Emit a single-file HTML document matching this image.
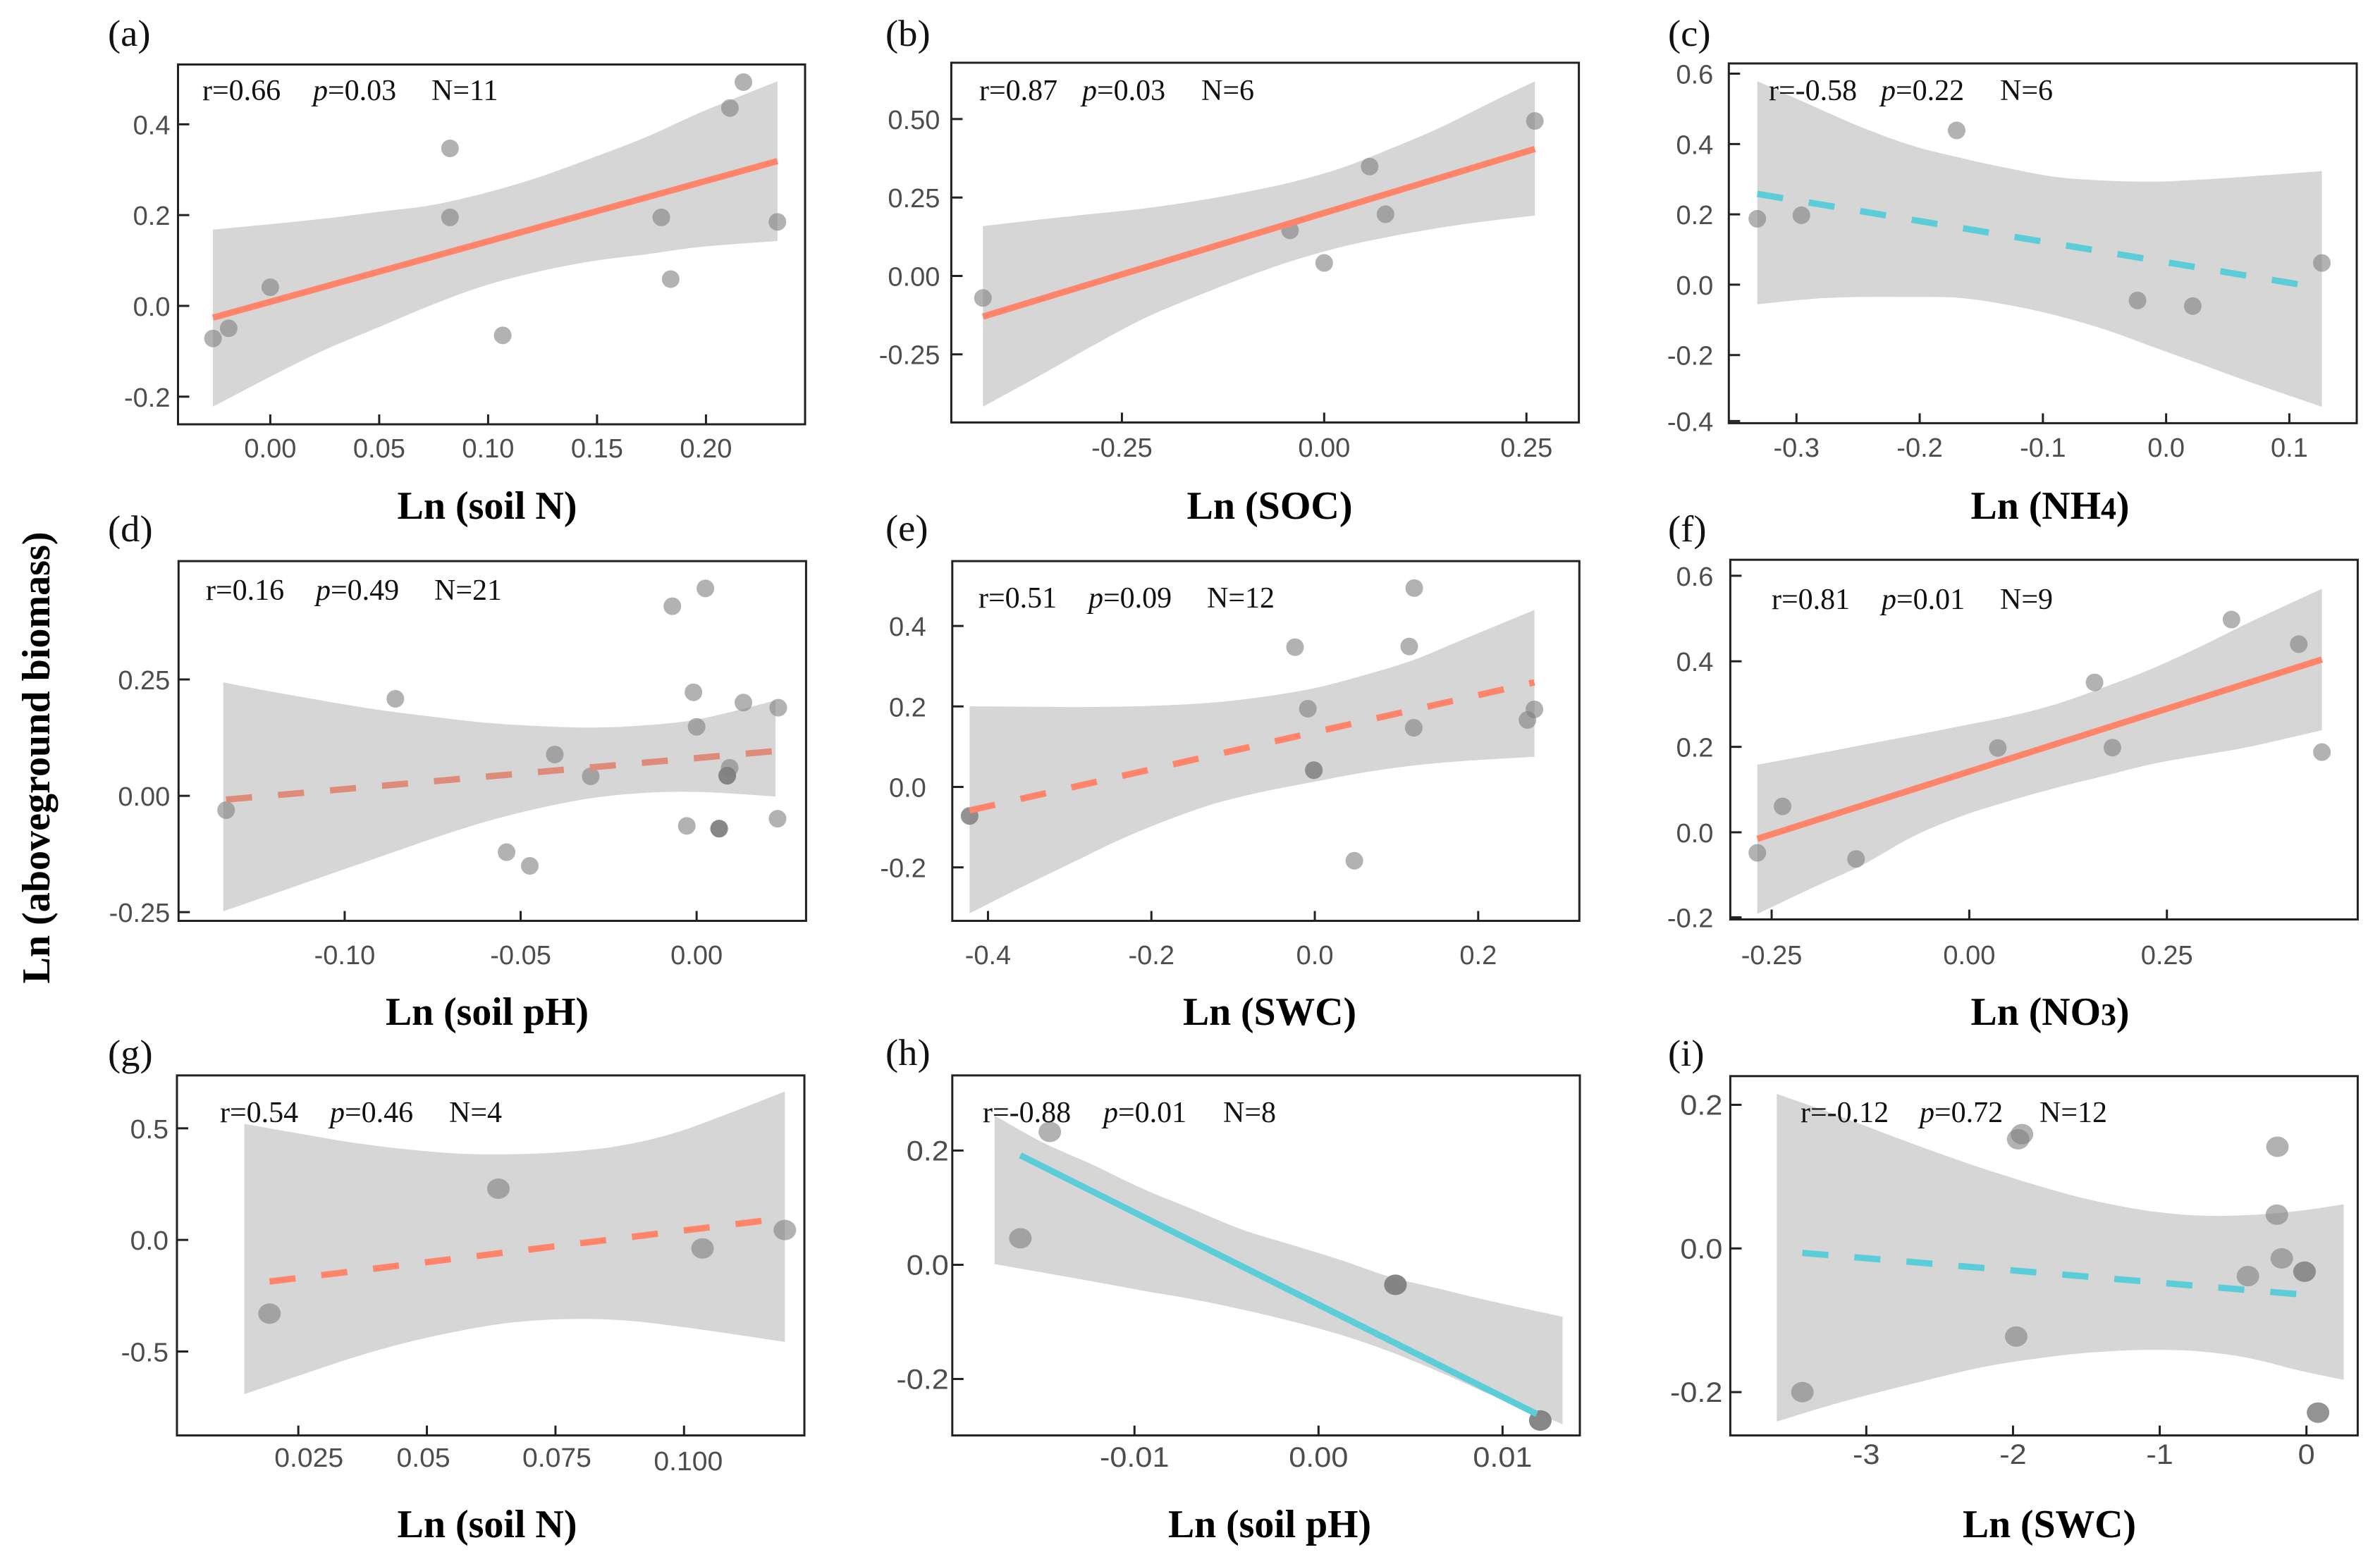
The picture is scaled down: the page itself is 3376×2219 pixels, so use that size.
<!DOCTYPE html>
<html lang="en">
<head>
<meta charset="utf-8">
<title>Aboveground biomass response regressions</title>
<style>
html,body{margin:0;padding:0;background:#fff;}
svg{display:block;}
.letter{font-family:"Liberation Serif",serif;font-size:53px;fill:#111;}
.stat{font-family:"Liberation Serif",serif;font-size:42px;fill:#111;}
.title{font-family:"Liberation Serif",serif;font-size:56px;font-weight:bold;fill:#000;text-anchor:middle;}
.sub{font-size:44px;}
.tick-label{font-family:"Liberation Sans",sans-serif;fill:#4d4d4d;}
</style>
</head>
<body>
<svg id="figure" xmlns="http://www.w3.org/2000/svg" width="3376" height="2219" viewBox="0 0 3376 2219">
<rect x="0" y="0" width="3376" height="2219" fill="#ffffff"/>
<g id="marks"></g>

<text class="title" transform="translate(70 1075) rotate(-90)" textLength="641" lengthAdjust="spacingAndGlyphs">Ln (aboveground biomass)</text>

<g>
<text class="letter" transform="translate(153 65) scale(1.03 1)">(a)</text>
<text class="letter" transform="translate(1256 65) scale(1.03 1)">(b)</text>
<text class="letter" transform="translate(2366 65) scale(1.03 1)">(c)</text>
<text class="letter" transform="translate(153 768) scale(1.03 1)">(d)</text>
<text class="letter" transform="translate(1256 767) scale(1.03 1)">(e)</text>
<text class="letter" transform="translate(2366 768) scale(1.03 1)">(f)</text>
<text class="letter" transform="translate(153 1512) scale(1.03 1)">(g)</text>
<text class="letter" transform="translate(1256 1511) scale(1.03 1)">(h)</text>
<text class="letter" transform="translate(2366 1512) scale(1.03 1)">(i)</text>
</g>

<g>
<text class="title" x="691" y="736" textLength="255" lengthAdjust="spacingAndGlyphs">Ln (soil N)</text>
<text class="title" x="1801" y="736" textLength="235" lengthAdjust="spacingAndGlyphs">Ln (SOC)</text>
<text class="title" x="2908" y="736" textLength="225" lengthAdjust="spacingAndGlyphs">Ln (NH<tspan class="sub">4</tspan>)</text>
<text class="title" x="691" y="1454" textLength="288" lengthAdjust="spacingAndGlyphs">Ln (soil pH)</text>
<text class="title" x="1801" y="1454" textLength="246" lengthAdjust="spacingAndGlyphs">Ln (SWC)</text>
<text class="title" x="2908" y="1454" textLength="225" lengthAdjust="spacingAndGlyphs">Ln (NO<tspan class="sub">3</tspan>)</text>
<text class="title" x="691" y="2181" textLength="255" lengthAdjust="spacingAndGlyphs">Ln (soil N)</text>
<text class="title" x="1801" y="2181" textLength="288" lengthAdjust="spacingAndGlyphs">Ln (soil pH)</text>
<text class="title" x="2907" y="2181" textLength="246" lengthAdjust="spacingAndGlyphs">Ln (SWC)</text>
</g>

<g>
<text class="stat" transform="translate(287 142)">r=0.66</text>
<text class="stat" transform="translate(444 142)"><tspan font-style="italic">p</tspan>=0.03</text>
<text class="stat" transform="translate(612 142)">N=11</text>
</g>
<g>
<text class="stat" transform="translate(1389 142)">r=0.87</text>
<text class="stat" transform="translate(1535 142)"><tspan font-style="italic">p</tspan>=0.03</text>
<text class="stat" transform="translate(1704 142)">N=6</text>
</g>
<g>
<text class="stat" transform="translate(2509 142)">r=-0.58</text>
<text class="stat" transform="translate(2668 142)"><tspan font-style="italic">p</tspan>=0.22</text>
<text class="stat" transform="translate(2837 142)">N=6</text>
</g>
<g>
<text class="stat" transform="translate(292 851)">r=0.16</text>
<text class="stat" transform="translate(448 851)"><tspan font-style="italic">p</tspan>=0.49</text>
<text class="stat" transform="translate(616 851)">N=21</text>
</g>
<g>
<text class="stat" transform="translate(1388 862)">r=0.51</text>
<text class="stat" transform="translate(1544 862)"><tspan font-style="italic">p</tspan>=0.09</text>
<text class="stat" transform="translate(1712 862)">N=12</text>
</g>
<g>
<text class="stat" transform="translate(2513 864)">r=0.81</text>
<text class="stat" transform="translate(2669 864)"><tspan font-style="italic">p</tspan>=0.01</text>
<text class="stat" transform="translate(2837 864)">N=9</text>
</g>
<g>
<text class="stat" transform="translate(312 1592)">r=0.54</text>
<text class="stat" transform="translate(468 1592)"><tspan font-style="italic">p</tspan>=0.46</text>
<text class="stat" transform="translate(637 1592)">N=4</text>
</g>
<g>
<text class="stat" transform="translate(1394 1592)">r=-0.88</text>
<text class="stat" transform="translate(1565 1592)"><tspan font-style="italic">p</tspan>=0.01</text>
<text class="stat" transform="translate(1735 1592)">N=8</text>
</g>
<g>
<text class="stat" transform="translate(2554 1592)">r=-0.12</text>
<text class="stat" transform="translate(2723 1592)"><tspan font-style="italic">p</tspan>=0.72</text>
<text class="stat" transform="translate(2893 1592)">N=12</text>
</g>
</svg>

<script>
// Panel (a)
const aXTicks = ["0.00","0.05","0.10","0.15","0.20"];
const aYTicks = ["-0.2","0.0","0.2","0.4"];
const aPointX = [-0.0263,-0.0191,0,0.0825,0.0825,0.1067,0.1795,0.1838,0.211,0.2172,0.2328];
const aPointY = [-0.0718,-0.0494,0.041,0.347,0.195,-0.065,0.195,0.059,0.436,0.493,0.185];
const aFitX = [-0.0263,0.2328];
const aFitY = [-0.026,0.319];
const aBandX = [-0.0263,0,0.0245,0.0493,0.074,0.0988,0.1236,0.1483,0.1731,0.1979,0.2328];
const aBandUpper = [0.168,0.18,0.192,0.207,0.222,0.249,0.284,0.327,0.373,0.427,0.495];
const aBandLower = [-0.222,-0.156,-0.098,-0.048,0.002,0.045,0.076,0.099,0.114,0.13,0.143];

// Panel (b)
const bXTicks = ["-0.25","0.00","0.25"];
const bYTicks = ["-0.25","0.00","0.25","0.50"];
const bPointX = [-0.4218,-0.0422,0,0.0562,0.0758,0.2604];
const bPointY = [-0.0704,0.1453,0.0414,0.3487,0.1967,0.494];
const bFitX = [-0.4218,0.2604];
const bFitY = [-0.1297,0.4046];
const bBandX = [-0.4218,-0.3466,-0.2854,-0.2243,-0.1632,-0.1021,-0.041,0.0202,0.0813,0.1424,0.2035,0.2604];
const bBandUpper = [0.1587,0.1811,0.1978,0.2146,0.237,0.2649,0.2984,0.3431,0.4046,0.4717,0.5499,0.6203];
const bBandLower = [-0.4169,-0.3107,-0.2213,-0.1375,-0.0704,-0.0089,0.0469,0.0917,0.1252,0.1531,0.1755,0.1922];

// Panel (c)
const cXTicks = ["-0.3","-0.2","-0.1","0.0","0.1"];
const cYTicks = ["-0.4","-0.2","0.0","0.2","0.4","0.6"];
const cPointX = [-0.3318,-0.296,-0.17,-0.0232,0.0216,0.1264];
const cPointY = [0.1874,0.1974,0.4387,-0.0449,-0.0608,0.0618];
const cFitX = [-0.3318,0.1264];
const cFitY = [0.2582,-0.01];
const cBandX = [-0.3318,-0.285,-0.2458,-0.2065,-0.1673,-0.128,-0.0887,-0.0495,-0.0102,0.0291,0.0683,0.1264];
const cBandUpper = [0.5783,0.5055,0.4457,0.3958,0.3609,0.331,0.3061,0.2961,0.2931,0.2991,0.3081,0.323];
const cBandLower = [-0.0558,-0.0399,-0.0349,-0.0349,-0.0379,-0.0578,-0.0877,-0.1276,-0.1775,-0.2273,-0.2772,-0.347];

// Panel (d)
const dXTicks = ["-0.10","-0.05","0.00"];
const dYTicks = ["-0.25","0.00","0.25"];
const dPointX = [-0.1337,-0.0856,-0.054,-0.0474,-0.0403,-0.0301,-0.0069,0.0025,-0.0028,-0.0009,0,0.0064,0.0064,0.0064,0.0087,0.0087,0.0087,0.0094,0.0133,0.0232,0.023];
const dPointY = [-0.0308,0.2085,-0.1211,-0.1505,0.0888,0.0419,0.4075,0.4457,-0.0646,0.2225,0.1483,-0.0705,-0.0705,-0.0705,0.0433,0.0433,0.0433,0.0602,0.2004,0.1894,-0.0492];
const dFitX = [-0.1337,0.0224];
const dFitY = [-0.0081,0.0962];
const dBandX = [-0.1345,-0.1213,-0.106,-0.0906,-0.0753,-0.06,-0.0446,-0.0293,-0.014,0.0014,0.0224];
const dBandUpper = [0.2438,0.2247,0.2041,0.185,0.1703,0.1571,0.1498,0.1468,0.152,0.1659,0.2048];
const dBandLower = [-0.2482,-0.2137,-0.1733,-0.1329,-0.0925,-0.0558,-0.0264,-0.0044,0.0066,0.0081,-0.0015];

// Panel (e)
const eXTicks = ["-0.4","-0.2","0.0","0.2"];
const eYTicks = ["-0.2","0.0","0.2","0.4"];
const ePointX = [-0.4225,-0.4225,-0.0242,-0.0085,-0.0012,-0.0012,0.0484,0.1156,0.1217,0.1211,0.2603,0.2688];
const ePointY = [-0.0722,-0.0722,0.3472,0.1944,0.0416,0.0416,-0.1834,0.3489,0.4941,0.1469,0.1664,0.1927];
const eFitX = [-0.4225,0.2688];
const eFitY = [-0.0586,0.2598];
const eBandX = [-0.4225,-0.362,-0.3015,-0.2409,-0.1804,-0.1199,-0.0593,0.0012,0.0617,0.1223,0.1828,0.2688];
const eBandUpper = [0.2003,0.1995,0.1986,0.1995,0.2029,0.2105,0.225,0.2462,0.2784,0.3166,0.3676,0.4397];
const eBandLower = [-0.3141,-0.2521,-0.1927,-0.1333,-0.0823,-0.0399,-0.0102,0.0136,0.0365,0.0535,0.0645,0.0747];

// Panel (f)
const fXTicks = ["-0.25","0.00","0.25"];
const fYTicks = ["-0.2","0.0","0.2","0.4","0.6"];
const fPointX = [-0.2681,-0.2362,-0.1432,0.0361,0.1585,0.1811,0.3317,0.4168,0.4461];
const fPointY = [-0.0479,0.0607,-0.0623,0.1973,0.3506,0.1981,0.4976,0.4401,0.1877];
const fFitX = [-0.2681,0.4461];
const fFitY = [-0.0152,0.4042];
const fBandX = [-0.2681,-0.1952,-0.134,-0.0728,-0.0116,0.0496,0.1108,0.172,0.2332,0.2944,0.3556,0.4461];
const fBandUpper = [0.1581,0.1829,0.2045,0.226,0.2484,0.2708,0.3003,0.3403,0.3842,0.4361,0.492,0.5695];
const fBandLower = [-0.1909,-0.127,-0.0751,-0.0112,0.0367,0.0727,0.1046,0.1326,0.1605,0.1805,0.2005,0.2388];

// Panel (g)
const gXTicks = ["0.025","0.05","0.075","0.100"];
const gYTicks = ["-0.5","0.0","0.5"];
const gPointX = [0.0194,0.0639,0.1036,0.1196];
const gPointY = [-0.3303,0.2294,-0.0382,0.0443];
const gFitX = [0.0194,0.1196];
const gFitY = [-0.1865,0.0979];
const gBandX = [0.0145,0.0247,0.0352,0.0457,0.0562,0.0666,0.0771,0.0876,0.0981,0.1086,0.1196];
const gBandUpper = [0.5199,0.4786,0.4373,0.4067,0.3869,0.3838,0.3945,0.422,0.4786,0.5657,0.6651];
const gBandLower = [-0.6911,-0.6116,-0.5306,-0.4618,-0.4083,-0.37,-0.3547,-0.3593,-0.3853,-0.419,-0.4572];

// Panel (h)
const hXTicks = ["-0.01","0.00","0.01"];
const hYTicks = ["-0.2","0.0","0.2"];
const hPointX = [-0.0162,-0.0146,0.00418,0.00418,0.00418,0.01205,0.01205,0.01205];
const hPointY = [0.0464,0.2327,-0.0351,-0.0351,-0.0351,-0.2726,-0.2726,-0.2726];
const hFitX = [-0.0162,0.01186];
const hFitY = [0.1917,-0.2613];
const hBandX = [-0.0176,-0.01496,-0.01226,-0.00957,-0.00687,-0.00418,-0.00148,0.00121,0.00391,0.0066,0.0093,0.01326];
const hBandUpper = [0.2613,0.2137,0.175,0.1333,0.0976,0.0619,0.0351,0.0083,-0.0214,-0.0423,-0.0631,-0.0911];
const hBandLower = [0.0012,-0.0137,-0.0292,-0.0452,-0.0601,-0.078,-0.0988,-0.1226,-0.1524,-0.1881,-0.2268,-0.2792];

// Panel (i)
const iXTicks = ["-3","-2","-1","0"];
const iYTicks = ["-0.2","0.0","0.2"];
const iPointX = [-3.4355,-1.9782,-1.965,-1.9387,-0.3989,-0.1978,-0.2011,-0.1682,-0.0132,-0.0132,0.0791,0.0791];
const iPointY = [-0.2,-0.1226,0.152,0.1591,-0.0385,0.1416,0.047,-0.0138,-0.0323,-0.0323,-0.2285,-0.2285];
const iFitX = [-3.4355,0.0791];
const iFitY = [-0.0062,-0.066];
const iBandX = [-3.6103,-3.185,-2.6904,-2.1958,-1.7013,-1.3716,-1.0419,-0.7122,-0.3825,-0.0528,0.2539];
const iBandUpper = [0.2152,0.1843,0.1463,0.1107,0.0798,0.0632,0.0513,0.0456,0.0466,0.0523,0.0613];
const iBandLower = [-0.2409,-0.2147,-0.1886,-0.1648,-0.1496,-0.1435,-0.1411,-0.1435,-0.153,-0.1696,-0.1829];

const SALMON = '#ff8469';
const MUTED = '#df8b7a';
const TEAL = '#5bcdd8';

const panelList = [
  {id:'a', box:[252.5,91.5,1142,602], xd:[-0.04236,0.2455], yd:[-0.2609,0.5318], xt:aXTicks, yt:aYTicks, px:aPointX, py:aPointY, fx:aFitX, fy:aFitY, bx:aBandX, bu:aBandUpper, bl:aBandLower, color:SALMON, dash:false, r:[12.5,12.5], gap:11, base:47, font:38, k:1},
  {id:'b', box:[1349.4,89,2239.6,599.4], xd:[-0.4609,0.3148], yd:[-0.4672,0.6796], xt:bXTicks, yt:bYTicks, px:bPointX, py:bPointY, fx:bFitX, fy:bFitY, bx:bBandX, bu:bBandUpper, bl:bBandLower, color:SALMON, dash:false, r:[12.5,12.5], gap:16, base:48.6, font:38, k:1},
  {id:'c', box:[2452.3,90,3343,600.4], xd:[-0.3549,0.1547], yd:[-0.3938,0.6291], xt:cXTicks, yt:cYTicks, px:cPointX, py:cPointY, fx:cFitX, fy:cFitY, bx:cBandX, bu:cBandUpper, bl:cBandLower, color:TEAL, dash:true, r:[12.5,12.5], gap:22, base:47.6, font:38, k:1},
  {id:'d', box:[253.3,796.1,1143.4,1306.5], xd:[-0.1472,0.0311], yd:[-0.2687,0.5044], xt:dXTicks, yt:dYTicks, px:dPointX, py:dPointY, fx:dFitX, fy:dFitY, bx:dBandX, bu:dBandUpper, bl:dBandLower, color:MUTED, dash:true, r:[12.5,12.5], gap:12, base:61.5, font:38, k:1},
  {id:'e', box:[1350.8,796.1,2240.3,1306.5], xd:[-0.4437,0.3238], yd:[-0.3328,0.5611], xt:eXTicks, yt:eYTicks, px:ePointX, py:ePointY, fx:eFitX, fy:eFitY, bx:eBandX, bu:eBandUpper, bl:eBandLower, color:SALMON, dash:true, r:[12.5,12.5], gap:37, base:61.5, font:38, k:1},
  {id:'f', box:[2454.4,794.2,3344.4,1304.5], xd:[-0.3023,0.4914], yd:[-0.2037,0.6374], xt:fXTicks, yt:fYTicks, px:fPointX, py:fPointY, fx:fFitX, fy:fFitY, bx:fBandX, bu:fBandUpper, bl:fBandLower, color:SALMON, dash:false, r:[12.5,12.5], gap:24, base:63.5, font:38, k:1},
  {id:'g', box:[251,1525.8,1141,2036.6], xd:[0.0014,0.1234], yd:[-0.8761,0.737], xt:gXTicks, yt:gYTicks, px:gPointX, py:gPointY, fx:gFitX, fy:gFitY, bx:gBandX, bu:gBandUpper, bl:gBandLower, color:SALMON, dash:true, r:[16,14.5], gap:12, base:44.4, font:38, k:1.03, nudge:{"0.025":[15,0],"0.05":[-5,0],"0.075":[2,0],"0.100":[6,5]}},
  {id:'h', box:[1350.8,1525.8,2241,2036.6], xd:[-0.0199,0.0142], yd:[-0.2988,0.3315], xt:hXTicks, yt:hYTicks, px:hPointX, py:hPointY, fx:hFitX, fy:hFitY, bx:hBandX, bu:hBandUpper, bl:hBandLower, color:TEAL, dash:false, r:[16,14.5], gap:5, base:44.4, font:40, k:1.08},
  {id:'i', box:[2454.4,1526.8,3344.4,2036.6], xd:[-3.927,0.3495], yd:[-0.2603,0.2399], xt:iXTicks, yt:iYTicks, px:iPointX, py:iPointY, fx:iFitX, fy:iFitY, bx:iBandX, bu:iBandUpper, bl:iBandLower, color:TEAL, dash:true, r:[16,14.5], gap:11, base:40.4, font:40, k:1.08}
];

const SVG_NS = 'http://www.w3.org/2000/svg';

function make(tag, attrs, parent) {
  const node = document.createElementNS(SVG_NS, tag);
  Object.keys(attrs).forEach(function (key) { node.setAttribute(key, attrs[key]); });
  parent.appendChild(node);
  return node;
}

function linearScale(domain, range) {
  return function (value) {
    return range[0] + (value - domain[0]) / (domain[1] - domain[0]) * (range[1] - range[0]);
  };
}

function smoothSegment(pts) {
  let out = '';
  for (let n = 0; n < pts.length - 1; n++) {
    const p0 = pts[Math.max(n - 1, 0)];
    const p1 = pts[n];
    const p2 = pts[n + 1];
    const p3 = pts[Math.min(n + 2, pts.length - 1)];
    const c1x = p1[0] + (p2[0] - p0[0]) / 6;
    const c1y = p1[1] + (p2[1] - p0[1]) / 6;
    const c2x = p2[0] - (p3[0] - p1[0]) / 6;
    const c2y = p2[1] - (p3[1] - p1[1]) / 6;
    out += ' C' + c1x.toFixed(1) + ' ' + c1y.toFixed(1) + ' ' + c2x.toFixed(1) + ' ' + c2y.toFixed(1) + ' ' + p2[0].toFixed(1) + ' ' + p2[1].toFixed(1);
  }
  return out;
}

function drawPanel(p, root) {
  const left = p.box[0], top = p.box[1], right = p.box[2], bottom = p.box[3];
  const sx = linearScale(p.xd, [left, right]);
  const sy = linearScale(p.yd, [bottom, top]);

  const group = make('g', {}, root);
  
  

  const upperPts = p.bx.map(function (v, n) { return [sx(v), sy(p.bu[n])]; });
  const lowerPts = p.bx.map(function (v, n) { return [sx(v), sy(p.bl[n])]; }).reverse();
  const bandPath = 'M' + upperPts[0][0].toFixed(1) + ' ' + upperPts[0][1].toFixed(1) + smoothSegment(upperPts) +
    ' L' + lowerPts[0][0].toFixed(1) + ' ' + lowerPts[0][1].toFixed(1) + smoothSegment(lowerPts) + ' Z';
  const band = make('path', {d: bandPath, fill: '#d6d6d6'}, group);
  
  

  p.px.forEach(function (v, n) {
    const dot = make('ellipse', {cx: sx(v), cy: sy(p.py[n]), rx: p.r[0], ry: p.r[1], fill: '#7f7f7f', 'fill-opacity': 0.6}, group);
    
    
  });

  const fit = make('line', {
    x1: sx(p.fx[0]), y1: sy(p.fy[0]), x2: sx(p.fx[1]), y2: sy(p.fy[1]),
    stroke: p.color, 'stroke-width': 9,
    'stroke-dasharray': p.dash ? '37 37' : 'none'
  }, group);
  
  

  const frame = make('rect', {x: left, y: top, width: right - left, height: bottom - top, fill: 'none', stroke: '#222222', 'stroke-width': 3}, group);
  
  

  p.xt.forEach(function (label) {
    const px = sx(Number(label));
    const shift = (p.nudge && p.nudge[label]) || [0, 0];
    const tick = make('line', {x1: px, x2: px, y1: bottom, y2: bottom - 14, stroke: '#222222', 'stroke-width': 3}, group);
    
    
    const text = make('text', {
      class: 'tick-label', 'font-size': p.font, 'text-anchor': 'middle',
      transform: 'translate(' + (px + shift[0]) + ' ' + (bottom + p.base + shift[1]) + ') scale(' + p.k + ' 1)'
    }, group);
    text.textContent = label;
    
    
  });

  p.yt.forEach(function (label) {
    const py = Math.min(sy(Number(label)), bottom - 3);
    const tick = make('line', {x1: left, x2: left + 16, y1: py, y2: py, stroke: '#222222', 'stroke-width': 3}, group);
    
    
    const text = make('text', {
      class: 'tick-label', 'font-size': p.font, 'text-anchor': 'end',
      transform: 'translate(' + (left - p.gap) + ' ' + (py + 14) + ') scale(' + p.k + ' 1)'
    }, group);
    text.textContent = label;
    
    
  });
}

const marksRoot = document.getElementById('marks');
panelList.forEach(function (p) { drawPanel(p, marksRoot); });
</script>
</body>
</html>
